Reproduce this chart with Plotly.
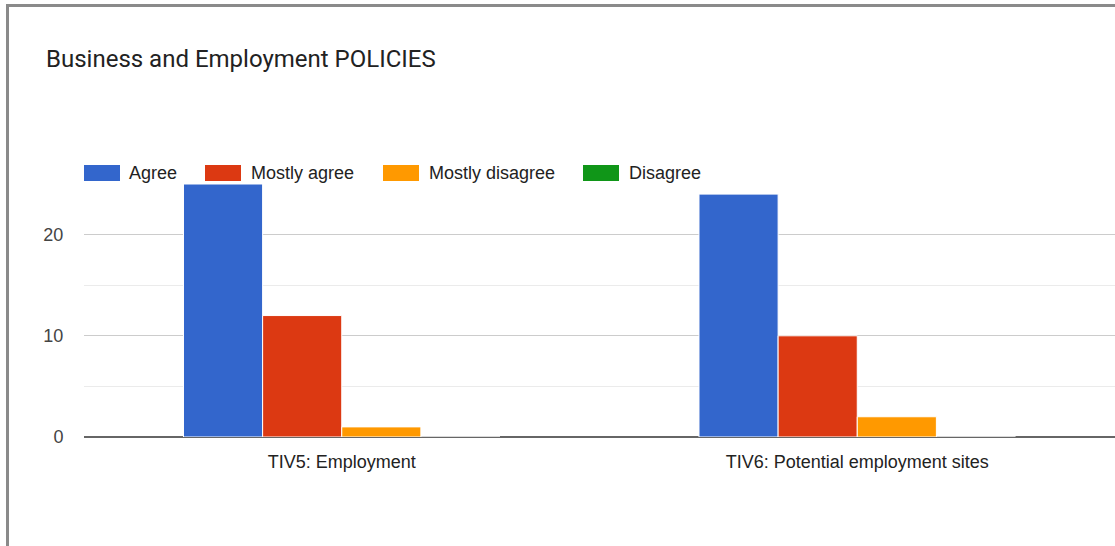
import plotly.graph_objects as go

categories = ["TIV5: Employment", "TIV6: Potential employment sites"]
series_names = ["Agree", "Mostly agree", "Mostly disagree", "Disagree"]
agree = [25, 24]
mostly_agree = [12, 10]
mostly_disagree = [1, 2]
disagree = [0, 0]
colors = ["#3366cc", "#dc3912", "#ff9900", "#109618"]
y_tick_vals = [0, 10, 20]
y_tick_text = ["0", "10", "20"]

W, H = 1115, 546
L, R, T, B = 84, 0, 184, 109
PW, PH = W - L - R, H - T - B


def px(x):
    return (x - L) / PW


def py(y):
    return (H - B - y) / PH


FONT = "Liberation Sans, Arial, sans-serif"

fig = go.Figure()
for name, vals, col in zip(series_names, [agree, mostly_agree, mostly_disagree, disagree], colors):
    fig.add_trace(go.Bar(x=categories, y=vals, name=name, marker=dict(color=col, line=dict(color="white", width=1)),
                         showlegend=False))

shapes = []
annotations = []
# custom legend (Google-style wide swatches)
leg_sw = [84, 205, 383, 583]
leg_tx = [127, 249, 427, 627]
for name, col, sx, tx in zip(series_names, colors, leg_sw, leg_tx):
    shapes.append(dict(type="rect", xref="paper", yref="paper", x0=px(sx), x1=px(sx + 36), y0=py(181), y1=py(165),
                       fillcolor=col, line=dict(width=0)))
    annotations.append(dict(xref="paper", yref="paper", x=px(tx), y=py(173), text=name, showarrow=False,
                            xanchor="left", yanchor="middle", font=dict(family=FONT, size=18, color="#222")))

# outer border
shapes.append(dict(type="line", xref="paper", yref="paper", x0=px(7.5), x1=px(W + 5), y0=py(5.5), y1=py(5.5),
                   line=dict(color="#8a8a8a", width=3)))
shapes.append(dict(type="line", xref="paper", yref="paper", x0=px(7.5), x1=px(7.5), y0=py(4), y1=py(H + 5),
                   line=dict(color="#8a8a8a", width=3)))

annotations.append(dict(xref="paper", yref="paper", x=px(44), y=py(59), text="Business and Employment POLICIES",
                        showarrow=False, xanchor="left", yanchor="middle",
                        font=dict(family="Roboto, sans-serif", size=24, color="#222")))

fig.update_layout(
    width=W, height=H,
    margin=dict(l=L, r=R, t=T, b=B, pad=0),
    paper_bgcolor="white", plot_bgcolor="white",
    barmode="group", bargap=0.386, bargroupgap=0,
    shapes=shapes, annotations=annotations,
    showlegend=False,
    xaxis=dict(showgrid=False, ticks="outside", ticklen=8, tickcolor="rgba(0,0,0,0)",
               tickfont=dict(family=FONT, size=18, color="#222"), showline=False),
    yaxis=dict(range=[0, 25], tickvals=y_tick_vals, ticktext=y_tick_text, showgrid=True, gridcolor="#cccccc",
               gridwidth=1, zeroline=True, zerolinecolor="#666666", zerolinewidth=2,
               ticks="outside", ticklen=16, tickcolor="rgba(0,0,0,0)",
               tickfont=dict(family=FONT, size=18, color="#444"),
               minor=dict(dtick=5, tick0=0, showgrid=True, gridcolor="#ebebeb", gridwidth=1)),
)
fig.write_html("out.html")
